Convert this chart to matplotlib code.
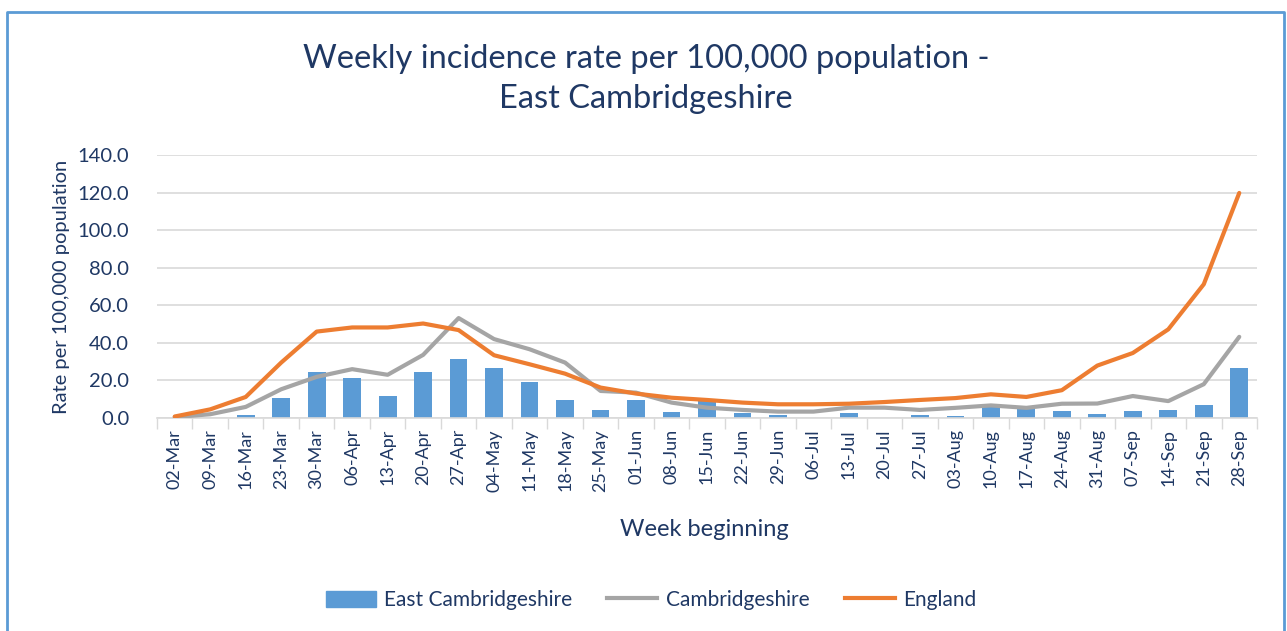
import matplotlib
matplotlib.use("Agg")
import matplotlib.pyplot as plt
from matplotlib.lines import Line2D
from matplotlib.patches import Patch
import numpy as np

weeks = ["02-Mar", "09-Mar", "16-Mar", "23-Mar", "30-Mar", "06-Apr", "13-Apr", "20-Apr",
         "27-Apr", "04-May", "11-May", "18-May", "25-May", "01-Jun", "08-Jun", "15-Jun",
         "22-Jun", "29-Jun", "06-Jul", "13-Jul", "20-Jul", "27-Jul", "03-Aug", "10-Aug",
         "17-Aug", "24-Aug", "31-Aug", "07-Sep", "14-Sep", "21-Sep", "28-Sep"]

east_cambs = [0.0, 0.0, 1.4, 10.8, 24.4, 21.2, 11.7, 24.4, 31.6, 26.5, 19.2, 9.8,
              4.4, 9.6, 3.4, 9.0, 2.8, 1.6, 0.0, 2.5, 0.0, 1.4, 1.3, 7.6,
              5.8, 3.6, 2.3, 3.6, 4.5, 6.7, 26.7]

cambs = [0.5, 2.0, 5.9, 15.3, 21.9, 26.0, 23.0, 33.6, 53.2, 42.0, 36.6, 29.5,
         14.4, 13.5, 8.2, 5.5, 4.3, 3.4, 3.4, 5.5, 5.5, 4.3, 5.4, 6.7,
         5.4, 7.6, 7.7, 11.7, 9.0, 18.0, 43.2]

england = [0.8, 4.6, 11.2, 29.5, 46.0, 48.2, 48.2, 50.3, 46.8, 33.4, 28.6, 23.6,
           16.2, 13.0, 10.8, 9.6, 8.2, 7.3, 7.3, 7.6, 8.5, 9.6, 10.6, 12.6,
           11.2, 14.8, 27.9, 34.6, 47.2, 71.2, 119.8]

yticks = [0, 20, 40, 60, 80, 100, 120, 140]

title = "Weekly incidence rate per 100,000 population -\nEast Cambridgeshire"
xlabel = "Week beginning"
ylabel = "Rate per 100,000 population"

BLUE = "#5B9BD5"
GREY = "#A5A5A5"
ORANGE = "#ED7D31"
TEXT = "#1F3864"
FONT = "Lato"

plt.rcParams['font.family'] = [FONT, 'DejaVu Sans']

W, H = 1287, 631
fig = plt.figure(figsize=(W / 100, H / 100), dpi=100)
ax = fig.add_axes([157 / W, 1 - 418 / H, 1100 / W, 263 / H])

x = np.arange(len(weeks))
ax.bar(x, east_cambs, width=0.5, color=BLUE, zorder=2)
ax.plot(x, cambs, color=GREY, lw=3.0, zorder=3, solid_capstyle='round')
ax.plot(x, england, color=ORANGE, lw=3.0, zorder=4, solid_capstyle='round')

ax.set_xlim(-0.5, len(weeks) - 0.5)
ax.set_ylim(0, 140)
ax.set_yticks(yticks)
ax.set_yticklabels([f"{v:.1f}" for v in yticks], fontsize=14.5, color=TEXT)
ax.tick_params(axis='y', length=0, pad=20)
ax.set_xticks(x)
ax.set_xticklabels(weeks, rotation=90, fontsize=13, color=TEXT)
ax.tick_params(axis='x', which='major', length=0, pad=8)
ax.set_xticks(np.arange(-0.5, len(weeks), 1), minor=True)
ax.tick_params(axis='x', which='minor', length=8, color="#D9D9D9", width=1)
ax.grid(axis='y', color="#D9D9D9", lw=1.2, zorder=0)
ax.set_axisbelow(True)
for s in ['top', 'right', 'left']:
    ax.spines[s].set_visible(False)
ax.spines['bottom'].set_color("#D9D9D9")
ax.spines['bottom'].set_linewidth(1.2)

fig.text(646 / W, 1 - 79 / H, title, ha='center', va='center', fontsize=23.5,
         color=TEXT, linespacing=1.45)
fig.text(704 / W, 1 - 530 / H, xlabel, ha='center', va='center', fontsize=17, color=TEXT)
fig.text(62 / W, 1 - 287 / H, ylabel, ha='center', va='center', rotation=90,
         fontsize=14.5, color=TEXT)

handles = [Patch(color=BLUE), Line2D([], [], color=GREY, lw=3.0),
           Line2D([], [], color=ORANGE, lw=3.0)]
fig.legend(handles, ["East Cambridgeshire", "Cambridgeshire", "England"],
           loc='center', bbox_to_anchor=(651 / W, 1 - 600 / H), ncol=3, frameon=False,
           fontsize=15, labelcolor=TEXT, handlelength=2.4, handletextpad=0.4,
           columnspacing=1.7, handleheight=0.8)

# border (left, top, right)
fig.add_artist(Line2D([7 / W, 7 / W, 1284 / W, 1284 / W],
                      [0, 1 - 12 / H, 1 - 12 / H, 0], transform=fig.transFigure,
                      color=BLUE, lw=2))

fig.savefig("out.png", dpi=100, facecolor='white')
